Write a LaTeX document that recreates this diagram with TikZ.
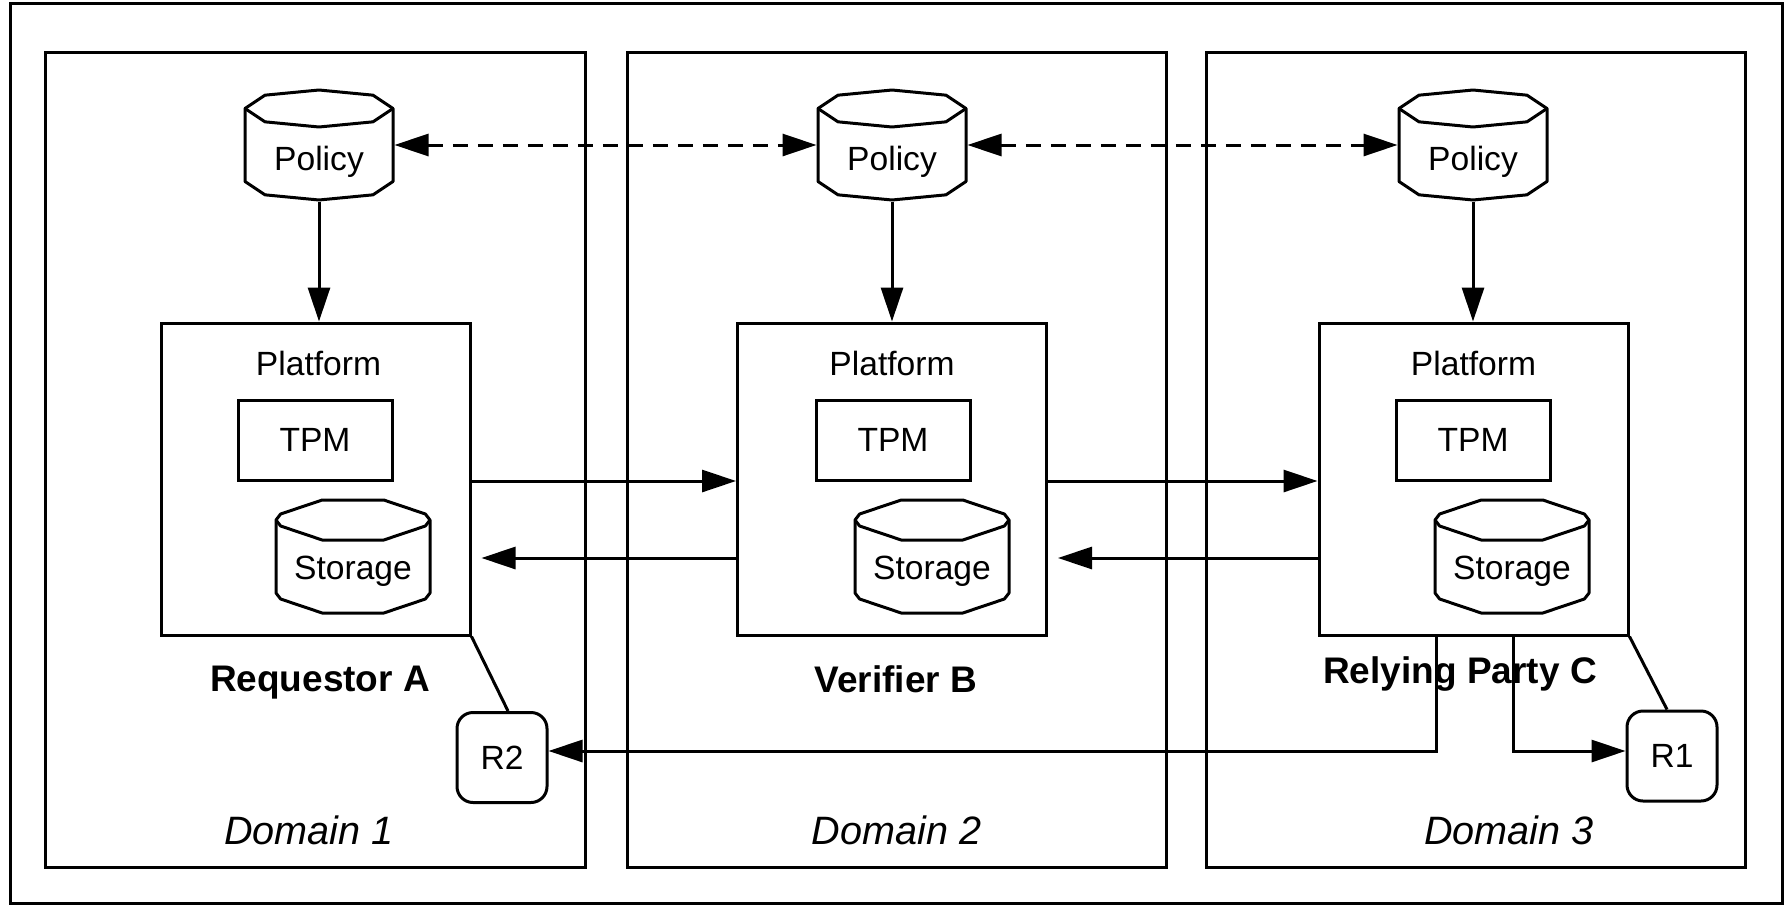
\documentclass[tikz,border=0pt]{standalone}
\usepackage{fontspec}
\setmainfont{Liberation Sans}
\usetikzlibrary{arrows.meta,calc}
% cx, ytop, ybot, a, b, p, q, r
\newcommand{\cylout}[8]{%
 \draw[line join=round] ({#1-#4},{#2+#5}) -- ({#1-#4},{#3-#5}) -- ({#1-#7*#4},{#3-#5+#8*#5}) -- ({#1-#6*#4},{#3}) -- ({#1+#6*#4},{#3}) -- ({#1+#7*#4},{#3-#5+#8*#5}) -- ({#1+#4},{#3-#5}) -- ({#1+#4},{#2+#5}) -- ({#1+#7*#4},{#2+#5-#8*#5}) -- ({#1+#6*#4},{#2}) -- ({#1-#6*#4},{#2}) -- ({#1-#7*#4},{#2+#5-#8*#5}) -- cycle;
 \draw[line join=round] ({#1-#4},{#2+#5}) -- ({#1-#7*#4},{#2+#5+#8*#5}) -- ({#1-#6*#4},{#2+2*#5}) -- ({#1+#6*#4},{#2+2*#5}) -- ({#1+#7*#4},{#2+#5+#8*#5}) -- ({#1+#4},{#2+#5});
}
\begin{document}
\begin{tikzpicture}[x=0.5pt,y=-0.5pt,line width=1.5pt,
 every node/.style={inner sep=0pt},
 txt/.style={font=\fontsize{16.8}{20}\selectfont},
 btxt/.style={font=\fontsize{18.5}{22}\selectfont\bfseries},
 dtxt/.style={font=\fontsize{19.8}{24}\selectfont\itshape},
 bx/.style={draw, line width=1.5pt},
 dombox/.style={bx, minimum height=407.5pt},
 pnode/.style={minimum width=74pt, minimum height=55pt},
 snode/.style={minimum width=77pt, minimum height=56.5pt},
 platbox/.style={bx, minimum width=154.5pt, minimum height=156pt},
 tpmbox/.style={bx, txt, minimum width=77pt, minimum height=40pt},
 rbox/.style={bx, txt, rounded corners=8pt, minimum width=45pt, minimum height=45pt},
 arr/.style={-{Triangle[length=17pt,width=11pt]}},
 darr/.style={{Triangle[length=17pt,width=11pt]}-{Triangle[length=17pt,width=11pt]}, dash pattern=on 7.5pt off 5pt},
]
\useasboundingbox (0,0) rectangle (1787,905);
\draw (10,3) rectangle (1782,903);

% Domains
\node[dombox, minimum width=270pt, label={[dtxt,anchor=base,yshift=12pt,xshift=-3pt]south:Domain 1}] (dom1) at (315,459.5) {};
\node[dombox, minimum width=269.5pt, label={[dtxt,anchor=base,yshift=12pt]south:Domain 2}] (dom2) at (896.5,459.5) {};
\node[dombox, minimum width=269.5pt, label={[dtxt,anchor=base,yshift=12pt,xshift=16.75pt]south:Domain 3}] (dom3) at (1475.5,459.5) {};

% Policies
\node[pnode, label={[txt,anchor=base,yshift=-8.5pt]center:Policy}] (pol1) at (319,145) {};
\node[pnode, label={[txt,anchor=base,yshift=-8.5pt]center:Policy}] (pol2) at (892,145) {};
\node[pnode, label={[txt,anchor=base,yshift=-8.5pt]center:Policy}] (pol3) at (1473,145) {};
\cylout{319}{90}{200}{74}{18.5}{0}{0.73}{0.72}
\cylout{892}{90}{200}{74}{18.5}{0}{0.73}{0.72}
\cylout{1473}{90}{200}{74}{18.5}{0}{0.73}{0.72}

% Platforms
\node[platbox, label={[txt,anchor=base,yshift=-27pt,xshift=1.5pt]north:Platform}] (plat1) at (315.5,479) {};
\node[platbox, label={[txt,anchor=base,yshift=-27pt]north:Platform}] (plat2) at (892,479) {};
\node[platbox, label={[txt,anchor=base,yshift=-27pt]north:Platform}] (plat3) at (1473.5,479) {};

% TPMs
\node[tpmbox] (tpm1) at (315,440) {TPM};
\node[tpmbox] (tpm2) at (893,440) {TPM};
\node[tpmbox] (tpm3) at (1473,440) {TPM};

% Storage
\node[snode, label={[txt,anchor=base,yshift=-7.25pt]center:Storage}] (sto1) at (353,556.5) {};
\node[snode, label={[txt,anchor=base,yshift=-7.25pt]center:Storage}] (sto2) at (932,556.5) {};
\node[snode, label={[txt,anchor=base,yshift=-7.25pt]center:Storage}] (sto3) at (1512,556.5) {};
\cylout{353}{500}{613}{77}{20}{0.4}{0.94}{0.3}
\cylout{932}{500}{613}{77}{20}{0.4}{0.94}{0.3}
\cylout{1512}{500}{613}{77}{20}{0.4}{0.94}{0.3}

% Party names
\node[btxt, anchor=base] (reqA) at (320,691) {Requestor A};
\node[btxt, anchor=base] (verB) at (896,692) {Verifier B};
\node[btxt, anchor=base] (relC) at (1460,683) {Relying Party C};

% R boxes
\node[rbox] (R2) at (502,757.5) {R2};
\node[rbox] (R1) at (1672,756) {R1};

% Connectors
\draw[darr] (pol1.east) -- (pol2.west);
\draw[darr] (pol2.east) -- (pol3.west);
\draw[arr] (pol1.south) -- (pol1.south |- plat1.north);
\draw[arr] (pol2.south) -- (pol2.south |- plat2.north);
\draw[arr] (pol3.south) -- (pol3.south |- plat3.north);

\draw[arr] ([yshift=-1pt]plat1.east) -- ([yshift=-1pt]plat1.east -| plat2.west);
\draw[arr] ([yshift=-1pt]plat2.east) -- ([yshift=-1pt]plat2.east -| plat3.west);
\draw[arr] ([yshift=-39.5pt]plat2.west) -- ([yshift=-39.5pt,xshift=5pt]plat1.east);
\draw[arr] ([yshift=-39.5pt]plat3.west) -- ([yshift=-39.5pt,xshift=5pt]plat2.east);

\draw (plat1.south east) -- ([xshift=3pt]R2.north);
\draw (plat3.south east) -- ([xshift=-2.5pt]R1.north);
\draw[arr] ([xshift=-18.75pt]plat3.south) |- ([yshift=3.25pt]R2.east);
\draw[arr] ([xshift=19.75pt]plat3.south) |- ([yshift=2.5pt]R1.west);
\end{tikzpicture}
\end{document}
